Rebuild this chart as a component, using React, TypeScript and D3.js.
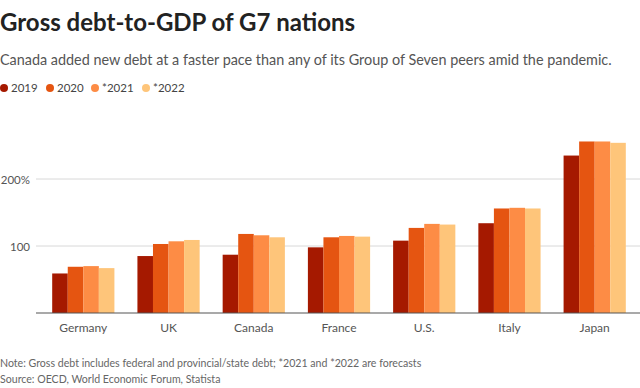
import React, { useEffect, useRef } from 'react';
import * as d3 from 'd3';

const countries = ['Germany', 'UK', 'Canada', 'France', 'U.S.', 'Italy', 'Japan'];
const years = ['2019', '2020', '*2021', '*2022'];
const colors = ['#a51900', '#e55511', '#fd8c45', '#fec57a'];

// debt-to-GDP, percent, one array per year
const v2019 = [59, 85, 87, 98, 108, 134, 235];
const v2020 = [69, 103, 118, 113, 127, 156, 256];
const v2021 = [70, 107, 116, 115, 133, 157, 256];
const v2022 = [67, 109, 113, 114, 132, 156, 254];
const series = [v2019, v2020, v2021, v2022];

const yTicks = [100, 200];

const W = 640;
const H = 388;
const FONT = 'Lato, "Open Sans", sans-serif';

const App = () => {
  const ref = useRef<SVGSVGElement>(null);

  useEffect(() => {
    document.body.style.margin = '0';
    const svg = d3.select(ref.current);
    svg.selectAll('*').remove();

    const margin = { top: 120, right: 0, bottom: 75, left: 36 };
    const chartBottom = H - margin.bottom;

    const x = d3.scaleBand()
      .domain(countries)
      .range([margin.left, 642])
      .paddingInner(0.27)
      .paddingOuter(0.19);

    const x1 = d3.scaleBand()
      .domain(years)
      .range([0, x.bandwidth()]);

    const y = d3.scaleLinear()
      .domain([0, 100])
      .range([chartBottom, chartBottom - 67]);

    // titles
    svg.append('text')
      .attr('x', 0).attr('y', 31)
      .style('font-family', FONT)
      .style('font-weight', 700)
      .style('font-size', '24px')
      .attr('fill', '#222')
      .text('Gross debt-to-GDP of G7 nations');

    svg.append('text')
      .attr('x', 0).attr('y', 65)
      .style('font-family', FONT)
      .style('font-size', '14.4px')
      .attr('fill', '#555')
      .text('Canada added new debt at a faster pace than any of its Group of Seven peers amid the pandemic.');

    // legend
    const legendX = [4, 50, 95, 146];
    years.forEach((yr, i) => {
      const g = svg.append('g').attr('transform', `translate(${legendX[i]},88)`);
      g.append('circle').attr('r', 4).attr('fill', colors[i]);
      g.append('text')
        .attr('x', 7).attr('y', 4)
        .style('font-family', FONT)
        .style('font-size', '11.5px')
        .attr('fill', '#444')
        .text(yr);
    });

    // gridlines + y labels
    yTicks.forEach(t => {
      svg.append('line')
        .attr('x1', margin.left).attr('x2', W)
        .attr('y1', y(t)).attr('y2', y(t))
        .attr('stroke', '#d8d8d8').attr('stroke-width', 1);
      svg.append('text')
        .attr('x', 30).attr('y', y(t) + 4.5)
        .attr('text-anchor', 'end')
        .style('font-family', FONT)
        .style('font-size', '11.5px')
        .attr('fill', '#555')
        .text(t === 200 ? '200%' : String(t));
    });

    // bars
    const g = svg.append('g');
    series.forEach((vals, si) => {
      g.selectAll(null)
        .data(vals)
        .enter()
        .append('rect')
        .attr('x', (d, i) => (x(countries[i]) as number) + (x1(years[si]) as number))
        .attr('y', d => y(d))
        .attr('width', x1.bandwidth())
        .attr('height', d => chartBottom - y(d))
        .attr('fill', colors[si]);
    });

    // baseline
    svg.append('line')
      .attr('x1', margin.left).attr('x2', W)
      .attr('y1', chartBottom).attr('y2', chartBottom)
      .attr('stroke', '#555').attr('stroke-width', 1.2);

    // x labels
    svg.append('g')
      .selectAll('text')
      .data(countries)
      .enter()
      .append('text')
      .attr('x', d => (x(d) as number) + x.bandwidth() / 2)
      .attr('y', chartBottom + 19)
      .attr('text-anchor', 'middle')
      .style('font-family', FONT)
      .style('font-size', '12px')
      .attr('fill', '#555')
      .text(d => d);

    // footnotes
    svg.append('text')
      .attr('x', 0).attr('y', 367)
      .style('font-family', FONT)
      .style('font-size', '10.6px')
      .attr('fill', '#666')
      .text('Note: Gross debt includes federal and provincial/state debt; *2021 and *2022 are forecasts');
    svg.append('text')
      .attr('x', 0).attr('y', 383)
      .style('font-family', FONT)
      .style('font-size', '10.6px')
      .attr('fill', '#666')
      .text('Source: OECD, World Economic Forum, Statista');
  }, []);

  return <svg ref={ref} width={W} height={H} style={{ display: 'block' }} />;
};

export default App;
